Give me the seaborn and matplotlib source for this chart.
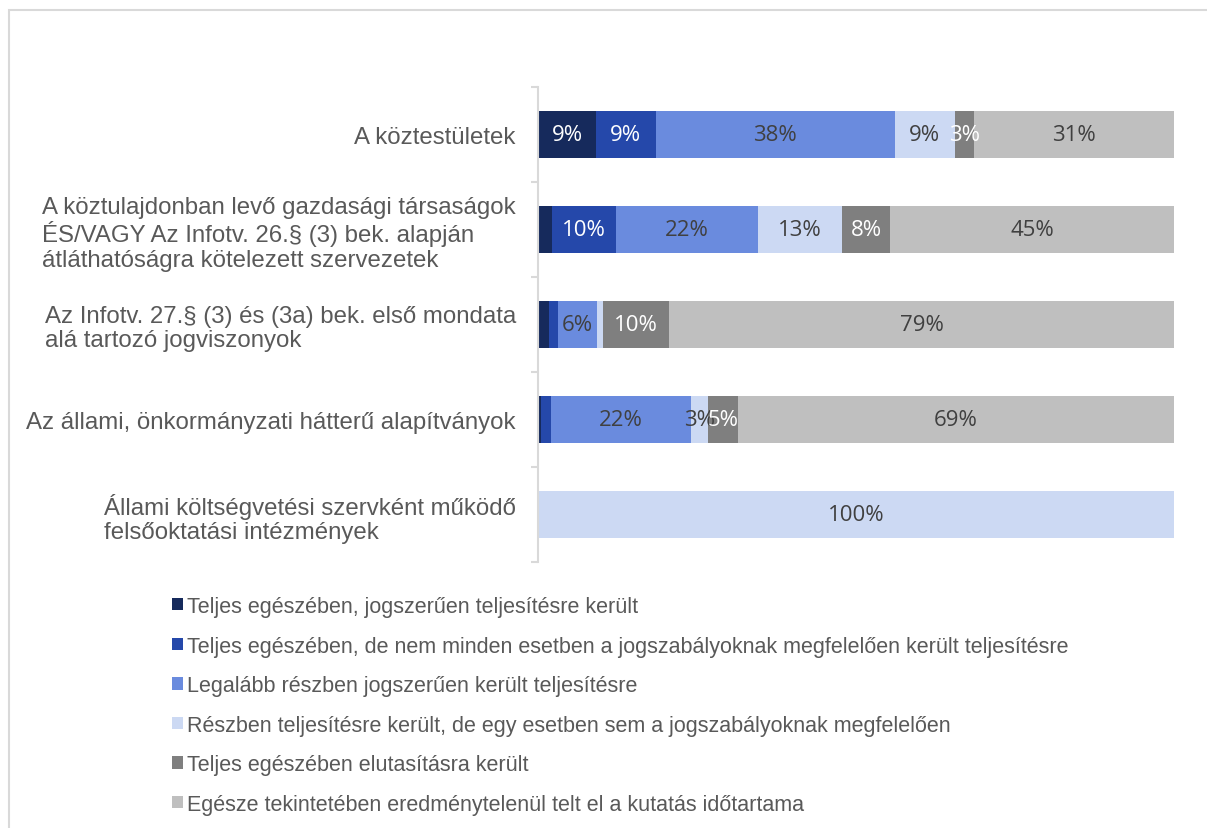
import numpy as np
import pandas as pd
import matplotlib
matplotlib.use("Agg")
import matplotlib.pyplot as plt
from matplotlib.patches import Patch, Rectangle
import seaborn as sns

categories = [
    "A köztestületek",
    "A köztulajdonban levő gazdasági társaságok\nÉS/VAGY Az Infotv. 26.§ (3) bek. alapján\nátláthatóságra kötelezett szervezetek",
    "Az Infotv. 27.§ (3) és (3a) bek. első mondata\nalá tartozó jogviszonyok",
    "Az állami, önkormányzati hátterű alapítványok",
    "Állami költségvetési szervként működő\nfelsőoktatási intézmények",
]
series_names = [
    "Teljes egészében, jogszerűen teljesítésre került",
    "Teljes egészében, de nem minden esetben a jogszabályoknak megfelelően került teljesítésre",
    "Legalább részben jogszerűen került teljesítésre",
    "Részben teljesítésre került, de egy esetben sem a jogszabályoknak megfelelően",
    "Teljes egészében elutasításra került",
    "Egésze tekintetében eredménytelenül telt el a kutatás időtartama",
]
s1 = [9.1, 2.2, 1.7, 0.5, 0.0]
s2 = [9.4, 10.1, 1.4, 1.6, 0.0]
s3 = [37.6, 22.3, 6.2, 21.9, 0.0]
s4 = [9.4, 13.2, 0.9, 2.8, 100.0]
s5 = [3.1, 7.6, 10.4, 4.6, 0.0]
s6 = [31.4, 44.6, 79.4, 68.6, 0.0]
series_values = [s1, s2, s3, s4, s5, s6]

colors = ["#162A5C", "#2548AA", "#6A8BDE", "#CCD9F3", "#7F7F7F", "#BFBFBF"]
text_colors = ["white", "white", "#404040", "#404040", "white", "#404040"]

plt.rcParams["font.family"] = ["Liberation Sans", "DejaVu Sans"]

W, H = 1207, 829
fig = plt.figure(figsize=(W / 100, H / 100), dpi=100)
ax = fig.add_axes([538 / W, 1 - 563 / H, (1174 - 538) / W, (563 - 88) / H])

df = pd.DataFrame({name: vals for name, vals in zip(series_names, series_values)})
df["category"] = categories
cum = df[series_names].cumsum(axis=1)

for i in range(len(series_names) - 1, -1, -1):
    sns.barplot(x=cum[series_names[i]], y=df["category"], orient="h",
                color=colors[i], width=0.49, ax=ax, linewidth=0, saturation=1)

# labels
for r in range(len(categories)):
    left = 0.0
    for i, name in enumerate(series_names):
        v = df[name].iloc[r]
        if v >= 2.5:
            ax.text(left + v / 2, r, f"{v:.0f}%", ha="center", va="center",
                    fontsize=16, color=text_colors[i],
                    family=["Open Sans", "DejaVu Sans"])
        left += v

ax.set_xlim(0, 100)
ax.set_ylim(4.5, -0.5)
ax.set_xlabel("")
ax.set_ylabel("")
ax.set_xticks([])
for s in ["top", "right", "bottom"]:
    ax.spines[s].set_visible(False)
ax.spines["left"].set_color("#D9D9D9")
ax.spines["left"].set_linewidth(1.5)
ax.set_yticks(range(len(categories)))
ax.set_yticklabels(categories, fontsize=17.3, color="#595959", multialignment="left",
                   linespacing=1.13)
ax.tick_params(axis="y", which="major", length=0, pad=16)
ax.set_yticks(np.arange(-0.5, len(categories), 1.0), minor=True)
ax.tick_params(axis="y", which="minor", length=5, width=1.5, color="#D9D9D9")

handles = [Patch(facecolor=c, edgecolor="none") for c in colors]
fig.legend(handles, series_names, loc="upper left",
           bbox_to_anchor=(172 / W, 1 - 597 / H), frameon=False,
           fontsize=15.5, labelcolor="#595959", handlelength=0.5, handleheight=0.5,
           handletextpad=0.2, labelspacing=0.86, borderpad=0, borderaxespad=0)

# outer frame
fig.patches.append(Rectangle((9 / W, -0.1), 1.2, 1 - 11 / H + 0.1,
                             transform=fig.transFigure, fill=False,
                             edgecolor="#D9D9D9", linewidth=1.5))

fig.savefig("out.png", dpi=100)
